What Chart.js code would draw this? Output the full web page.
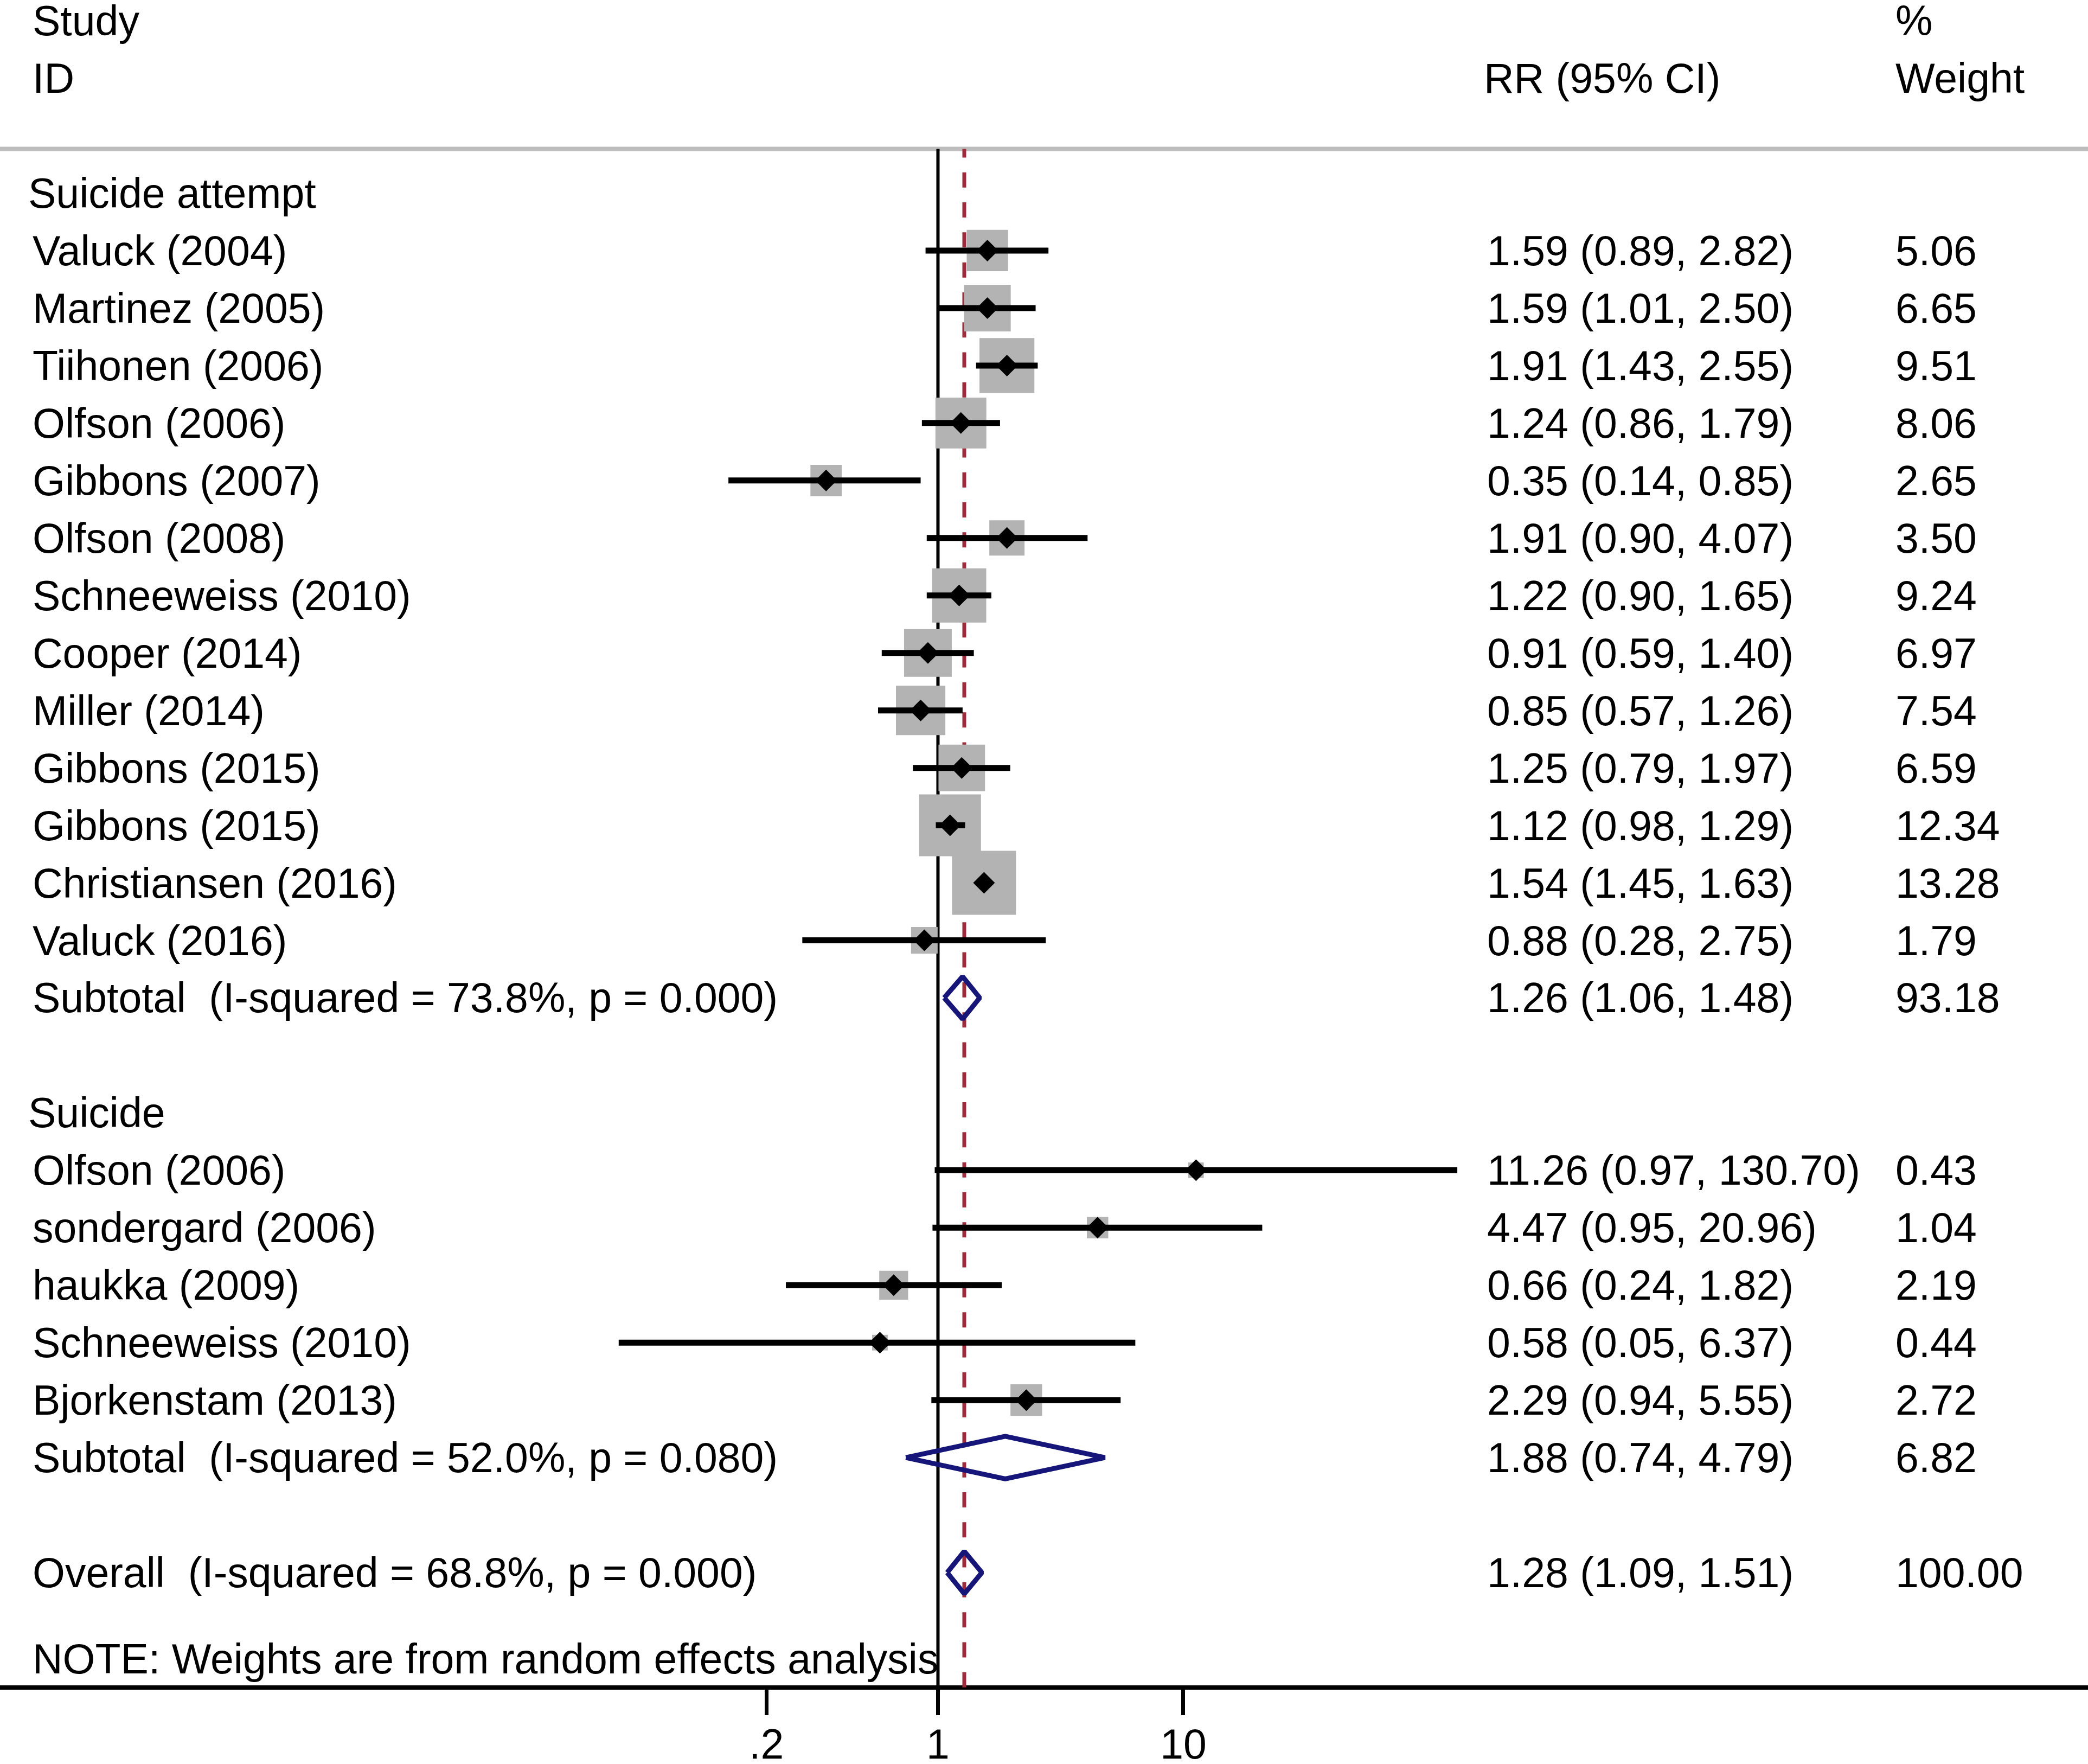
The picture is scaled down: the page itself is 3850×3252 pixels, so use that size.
<!DOCTYPE html>
<html lang="en">
<head>
<meta charset="UTF-8">
<title>Forest plot</title>
<script src="https://cdn.jsdelivr.net/npm/chart.js@4.4.1/dist/chart.umd.min.js"></script>
<style>
  html, body { margin: 0; padding: 0; background: #fff; overflow: hidden; }
  canvas { display: block; }
</style>
</head>
<body>
<canvas id="forest" width="3850" height="3252"></canvas>
<script>
// ---- data ----
const groupNames = ["Suicide attempt", "Suicide"];

const studyNames = [
  "Valuck (2004)", "Martinez (2005)", "Tiihonen (2006)", "Olfson (2006)",
  "Gibbons (2007)", "Olfson (2008)", "Schneeweiss (2010)", "Cooper (2014)",
  "Miller (2014)", "Gibbons (2015)", "Gibbons (2015)", "Christiansen (2016)",
  "Valuck (2016)",
  "Olfson (2006)", "sondergard (2006)", "haukka (2009)", "Schneeweiss (2010)",
  "Bjorkenstam (2013)"
];
const studyGroup  = [0,0,0,0,0,0,0,0,0,0,0,0,0, 1,1,1,1,1];
const studyRR     = [1.59, 1.59, 1.91, 1.24, 0.35, 1.91, 1.22, 0.91, 0.85, 1.25, 1.12, 1.54, 0.88,
                     11.26, 4.47, 0.66, 0.58, 2.29];
const studyLow    = [0.89, 1.01, 1.43, 0.86, 0.14, 0.90, 0.90, 0.59, 0.57, 0.79, 0.98, 1.45, 0.28,
                     0.97, 0.95, 0.24, 0.05, 0.94];
const studyHigh   = [2.82, 2.50, 2.55, 1.79, 0.85, 4.07, 1.65, 1.40, 1.26, 1.97, 1.29, 1.63, 2.75,
                     130.70, 20.96, 1.82, 6.37, 5.55];
const studyWeight = [5.06, 6.65, 9.51, 8.06, 2.65, 3.50, 9.24, 6.97, 7.54, 6.59, 12.34, 13.28, 1.79,
                     0.43, 1.04, 2.19, 0.44, 2.72];

const subtotalLabels = ["Subtotal  (I-squared = 73.8%, p = 0.000)", "Subtotal  (I-squared = 52.0%, p = 0.080)"];
const subtotalRR     = [1.26, 1.88];
const subtotalLow    = [1.06, 0.74];
const subtotalHigh   = [1.48, 4.79];
const subtotalWeight = [93.18, 6.82];

const overallLabel  = "Overall  (I-squared = 68.8%, p = 0.000)";
const overallRR     = 1.28;
const overallLow    = 1.09;
const overallHigh   = 1.51;
const overallWeight = 100.00;

const xTicks = [0.2, 1, 10];
const noteText = "NOTE: Weights are from random effects analysis";

// ---- build the row list (row index = y value) ----
const rows = [];
groupNames.forEach((g, gi) => {
  rows.push({kind: "group", text: g});
  studyNames.forEach((name, i) => {
    if (studyGroup[i] === gi) {
      rows.push({kind: "study", text: name, rr: studyRR[i], lo: studyLow[i], hi: studyHigh[i], wt: studyWeight[i]});
    }
  });
  rows.push({kind: "sub", text: subtotalLabels[gi], rr: subtotalRR[gi], lo: subtotalLow[gi], hi: subtotalHigh[gi], wt: subtotalWeight[gi]});
  rows.push({kind: "blank"});
});
rows.push({kind: "sub", text: overallLabel, rr: overallRR, lo: overallLow, hi: overallHigh, wt: overallWeight});
rows.forEach((r, i) => { r.y = i; });

const studyRows = rows.filter(r => r.kind === "study");
const sumRows = rows.filter(r => r.kind === "sub");

const rowHeader1 = -3, rowHeader2 = -2, rowRule = -0.77;
const rowNote = rows.length + 0.5, rowAxis = rows.length + 1;

const xMin = 1.5062e-4, xMax = 48557;
const fam = '"Liberation Sans", Arial, Helvetica, sans-serif';
Chart.defaults.font.family = fam;

const fmt = v => v.toFixed(2);

// text columns
const textPlugin = {
  id: "forestText",
  beforeDatasetsDraw(chart) {
    const ctx = chart.ctx;
    const ys = chart.scales.y;
    const at = r => ys.getPixelForValue(r) + 27;
    ctx.save();
    ctx.fillStyle = "#000";
    ctx.font = "77px " + fam;
    ctx.textBaseline = "alphabetic";
    ctx.textAlign = "left";
    ctx.fillText("Study", 60, at(rowHeader1));
    ctx.fillText("ID", 60, at(rowHeader2));
    ctx.fillText("RR (95% CI)", 2736, at(rowHeader2));
    ctx.fillText("%", 3495, at(rowHeader1));
    ctx.fillText("Weight", 3495, at(rowHeader2));
    rows.forEach(r => {
      if (r.kind === "blank") return;
      ctx.fillText(r.text, r.kind === "group" ? 52 : 60, at(r.y));
      if (r.kind === "group") return;
      ctx.fillText(fmt(r.rr) + " (" + fmt(r.lo) + ", " + fmt(r.hi) + ")", 2742, at(r.y));
      ctx.fillText(fmt(r.wt), 3495, at(r.y));
    });
    ctx.fillText(noteText, 60, at(rowNote));
    ctx.restore();
  }
};

const datasets = [];

// header rule
datasets.push({
  type: "line", data: [{x: xMin, y: rowRule}, {x: xMax, y: rowRule}],
  borderColor: "#bdbdbd", borderWidth: 8, pointRadius: 0, order: 9
});
// null line at 1
datasets.push({
  type: "line", data: [{x: 1, y: rowRule}, {x: 1, y: rowAxis}],
  borderColor: "#000", borderWidth: 6, pointRadius: 0, borderCapStyle: "butt", order: 8
});
// overall effect line
datasets.push({
  type: "line", data: [{x: overallRR, y: rowRule}, {x: overallRR, y: rowAxis}],
  borderColor: "#9e2a3a", borderWidth: 7, borderDash: [28, 27.3], borderDashOffset: 12,
  pointRadius: 0, borderCapStyle: "butt", order: 7
});
// weight boxes
datasets.push({
  type: "scatter", data: studyRows.map(r => ({x: r.rr, y: r.y})),
  pointStyle: "rect",
  pointRadius: studyRows.map(r => (29.9 * Math.sqrt(r.wt) + 9) / Math.SQRT2),
  backgroundColor: "#b3b3b3", borderWidth: 0, order: 6
});
// confidence intervals
studyRows.forEach(r => {
  datasets.push({
    type: "line", data: [{x: r.lo, y: r.y}, {x: r.hi, y: r.y}],
    borderColor: "#000", borderWidth: 11, pointRadius: 0, borderCapStyle: "butt", order: 5
  });
});
// point estimates
datasets.push({
  type: "scatter", data: studyRows.map(r => ({x: r.rr, y: r.y})),
  pointStyle: "rectRot", pointRadius: 20, backgroundColor: "#000", borderWidth: 0, order: 4
});
// pooled diamonds
const dh = 0.37;
sumRows.forEach(r => {
  datasets.push({
    type: "line",
    data: [{x: r.lo, y: r.y}, {x: r.rr, y: r.y - dh}, {x: r.hi, y: r.y}, {x: r.rr, y: r.y + dh}, {x: r.lo, y: r.y}],
    borderColor: "#15157a", borderWidth: 9, pointRadius: 0, fill: false, tension: 0,
    borderJoinStyle: "bevel", borderCapStyle: "butt", order: 3
  });
});

new Chart(document.getElementById("forest"), {
  type: "scatter",
  data: {datasets: datasets},
  plugins: [textPlugin],
  options: {
    responsive: false,
    devicePixelRatio: 1,
    animation: false,
    events: [],
    layout: {padding: 0, autoPadding: false},
    plugins: {legend: {display: false}, tooltip: {enabled: false}},
    scales: {
      x: {
        type: "logarithmic",
        position: "bottom",
        min: xMin,
        max: xMax,
        afterBuildTicks: s => { s.ticks = xTicks.map(v => ({value: v})); },
        afterFit: s => { s.height = 141; },
        grid: {drawOnChartArea: false, drawTicks: true, tickLength: 51, tickWidth: 7, tickColor: "#000"},
        border: {display: true, color: "#000", width: 8},
        ticks: {
          color: "#000", font: {size: 77}, padding: 13, maxRotation: 0, autoSkip: false,
          callback: v => v < 1 ? String(v).replace(/^0/, "") : String(v)
        }
      },
      y: {
        type: "linear",
        reverse: true,
        min: rowHeader1 - 0.36,
        max: rowAxis,
        display: false
      }
    }
  }
});
</script>
</body>
</html>
